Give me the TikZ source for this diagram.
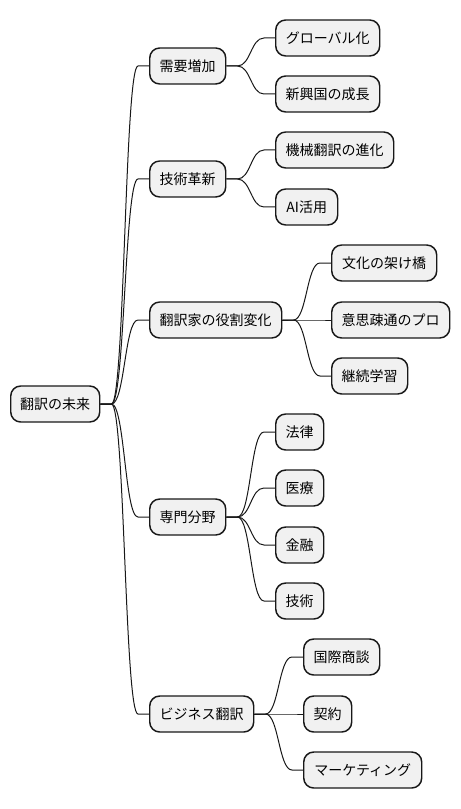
\documentclass[tikz,border=0pt]{standalone}
\usepackage{fontspec}
\setmainfont{Noto Sans CJK JP}
\usetikzlibrary{calc}
\definecolor{boxfill}{HTML}{F1F1F1}
\definecolor{boxline}{HTML}{181818}
\tikzset{
  box/.style={draw=boxline, fill=boxfill, line width=1.1pt, rounded corners=7.5pt,
    anchor=west, minimum height=27pt, inner xsep=0pt, inner ysep=0pt,
    font=\fontsize{10.5pt}{12pt}\selectfont, text=black},
  bw/.style={minimum width=#1*0.75pt},
  edge/.style={draw=boxline, line width=0.75pt}
}
\newcommand\conn[2]{%
  \coordinate (m) at ($(#1.east)!0.5!(#2.west)$);
  \draw[edge] (#1.east) -- ++(11,0) .. controls (m |- #1.east) and (m |- #2.west) .. ($(#2.west)+(-11,0)$) -- (#2.west);}
\begin{document}
\begin{tikzpicture}[x=0.75pt,y=-0.75pt]
\useasboundingbox (0,0) rectangle (460,809);
% root
\node[box,bw=89] (root) at (10,404) {翻訳の未来};
% level 1
\node[box,bw=76] (a) at (149,66) {需要増加};
\node[box,bw=76] (b) at (149,179) {技術革新};
\node[box,bw=132] (c) at (149,320) {翻訳家の役割変化};
\node[box,bw=76] (d) at (149,517) {専門分野};
\node[box,bw=104] (e) at (149,714) {ビジネス翻訳};
% level 2
\node[box,bw=104] (a1) at (275,38) {グローバル化};
\node[box,bw=104] (a2) at (275,94) {新興国の成長};
\node[box,bw=118] (b1) at (275,150) {機械翻訳の進化};
\node[box,bw=62] (b2) at (275,207) {AI活用};
\node[box,bw=105] (c1) at (331,263) {文化の架け橋};
\node[box,bw=118] (c2) at (331,320) {意思疎通のプロ};
\node[box,bw=76] (c3) at (331,376) {継続学習};
\node[box,bw=48] (d1) at (275,432) {法律};
\node[box,bw=48] (d2) at (275,488) {医療};
\node[box,bw=48] (d3) at (275,545) {金融};
\node[box,bw=48] (d4) at (275,601) {技術};
\node[box,bw=76] (e1) at (303,657) {国際商談};
\node[box,bw=48] (e2) at (303,714) {契約};
\node[box,bw=118] (e3) at (303,770) {マーケティング};
% connectors
\conn{root}{a}\conn{root}{b}\conn{root}{c}\conn{root}{d}\conn{root}{e}
\conn{a}{a1}\conn{a}{a2}
\conn{b}{b1}\conn{b}{b2}
\conn{c}{c1}\conn{c}{c2}\conn{c}{c3}
\conn{d}{d1}\conn{d}{d2}\conn{d}{d3}\conn{d}{d4}
\conn{e}{e1}\conn{e}{e2}\conn{e}{e3}
\end{tikzpicture}
\end{document}
